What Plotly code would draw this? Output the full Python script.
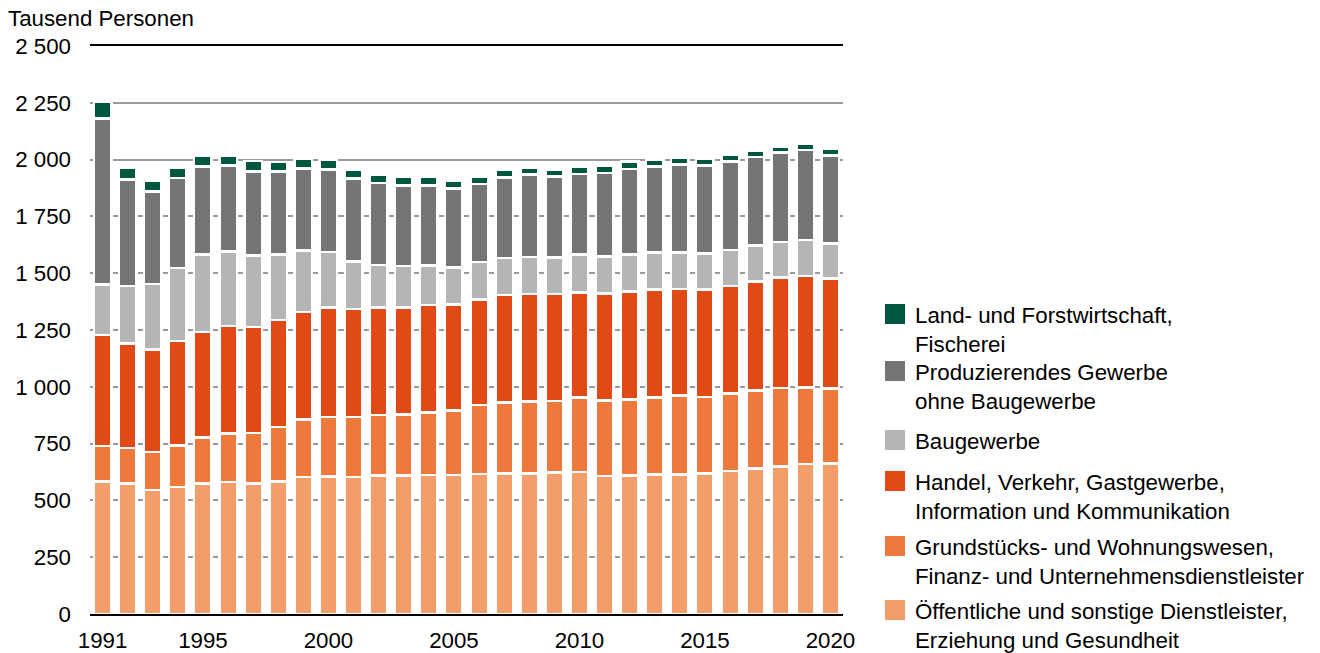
import plotly.graph_objects as go

years = list(range(1991, 2021))

# Tausend Personen
oeffentliche = [583, 574, 546, 560, 574, 580, 574, 584, 603, 606,
                604, 610, 610, 611, 611, 616, 618, 619, 622, 624,
                607, 610, 614, 614, 618, 629, 640, 650, 660, 663]
grundstuecke = [157, 157, 166, 182, 203, 214, 222, 238, 253, 260,
                263, 266, 269, 276, 285, 303, 313, 316, 316, 329,
                333, 334, 339, 347, 338, 341, 344, 345, 338, 329]
handel = [489, 459, 453, 459, 465, 474, 467, 472, 473, 484,
          475, 474, 471, 473, 466, 466, 472, 473, 470, 463,
          471, 476, 476, 470, 472, 474, 479, 485, 490, 484]
baugewerbe = [221, 253, 287, 322, 340, 328, 316, 288, 270, 244,
              210, 187, 181, 175, 163, 164, 165, 163, 162, 166,
              163, 162, 162, 161, 159, 158, 158, 157, 158, 155]
produzierendes = [730, 469, 408, 395, 388, 377, 369, 366, 362, 363,
                  364, 359, 356, 352, 348, 344, 354, 364, 356, 355,
                  368, 377, 379, 386, 387, 389, 390, 394, 396, 388]
landwirtschaft = [76, 54, 47, 45, 48, 45, 45, 42, 43, 42,
                  38, 37, 36, 37, 32, 33, 32, 31, 31, 32,
                  31, 32, 31, 30, 30, 29, 28, 27, 28, 27]

y_tickvals = [0, 250, 500, 750, 1000, 1250, 1500, 1750, 2000, 2250, 2500]
y_ticktext = ["0", "250", "500", "750", "1 000", "1 250", "1 500",
              "1 750", "2 000", "2 250", "2 500"]
x_tickvals = [1991, 1995, 2000, 2005, 2010, 2015, 2020]

series = [
    ("Öffentliche und sonstige Dienstleister,<br>Erziehung und Gesundheit", oeffentliche, "#F39E6A"),
    ("Grundstücks- und Wohnungswesen,<br>Finanz- und Unternehmensdienstleister", grundstuecke, "#ED7A3C"),
    ("Handel, Verkehr, Gastgewerbe,<br>Information und Kommunikation", handel, "#DF4A16"),
    ("Baugewerbe", baugewerbe, "#B4B5B6"),
    ("Produzierendes Gewerbe<br>ohne Baugewerbe", produzierendes, "#747577"),
    ("Land- und Forstwirtschaft,<br>Fischerei", landwirtschaft, "#005740"),
]

FONT = "Liberation Sans, Arial, sans-serif"
FS = 22.3
W, H = 1320, 653
L, T, R, B = 90, 46, 477, 39
plot_h = H - T - B
plot_w = W - L - R

fig = go.Figure()

for name, vals, col in series:
    fig.add_trace(go.Bar(
        x=years, y=vals, name=name, width=0.7,
        marker=dict(color=col, line=dict(color="white", width=2.5)),
        showlegend=False, hoverinfo="x+y+name",
    ))

# legend entries (top to bottom), each in its own legend box
legend_first_line_px = [314, 371, 440, 481, 546, 610]
layout_legends = {}
for k, (name, vals, col) in enumerate(reversed(series)):
    key = "legend" if k == 0 else f"legend{k + 1}"
    fig.add_trace(go.Scatter(
        x=[None], y=[None], mode="markers", name=name, legend=key,
        marker=dict(symbol="square", size=16, color=col, line=dict(color=col, width=4)),
        showlegend=True, hoverinfo="skip",
    ))
    top_px = legend_first_line_px[k] - 21
    layout_legends[key] = dict(
        x=(875 - L) / plot_w, xanchor="left",
        y=(H - B - top_px) / plot_h, yanchor="top",
        font=dict(family=FONT, size=FS, color="#000"),
        valign="top", itemsizing="trace", bgcolor="rgba(0,0,0,0)",
        borderwidth=0, tracegroupgap=0,
    )

fig.update_layout(
    width=W, height=H,
    margin=dict(l=L, r=R, t=T, b=B, autoexpand=False),
    barmode="stack",
    plot_bgcolor="white", paper_bgcolor="white",
    font=dict(family=FONT, size=FS, color="#000"),
    title=dict(text="Tausend Personen", x=8 / W, xanchor="left", xref="container",
               y=1 - 18 / H, yanchor="middle", yref="container",
               font=dict(family=FONT, size=FS, color="#000")),
    xaxis=dict(range=[1990.5, 2020.5], tickvals=x_tickvals, ticks="",
               showgrid=False, showline=True, mirror=True, linecolor="#000",
               linewidth=2, zeroline=False, ticklabelstandoff=5,
               tickfont=dict(family=FONT, size=FS, color="#000")),
    yaxis=dict(range=[0, 2500], tickvals=y_tickvals, ticktext=y_ticktext,
               ticks="", showgrid=True, gridcolor="#9A9A9A", gridwidth=1.5,
               zeroline=False, showline=False, ticklabelstandoff=18,
               tickfont=dict(family=FONT, size=FS, color="#000")),
    **layout_legends,
)

fig.write_html("out.html", config={"displayModeBar": False},
               post_script="document.body.style.margin='0px';")
